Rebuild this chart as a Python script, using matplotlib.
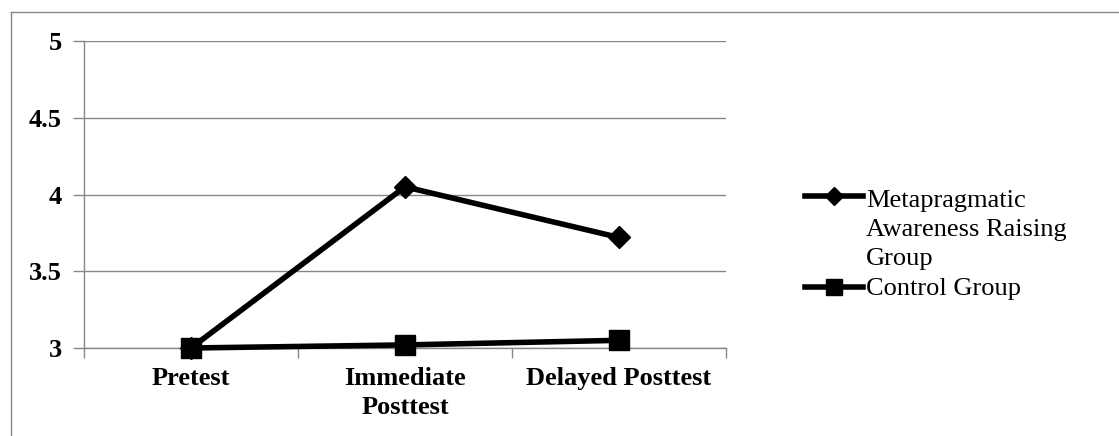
import matplotlib
matplotlib.use("Agg")
import matplotlib.pyplot as plt
from matplotlib.lines import Line2D
import numpy as np

plt.rcParams["font.family"] = ["Liberation Serif", "DejaVu Serif"]

categories = ["Pretest", "Immediate\nPosttest", "Delayed Posttest"]
meta_scores = [3.0, 4.05, 3.72]
control_scores = [3.0, 3.02, 3.05]
series_labels = ["Metapragmatic\nAwareness Raising\nGroup", "Control Group"]
y_ticks = [3, 3.5, 4, 4.5, 5]
y_ticklabels = ["3", "3.5", "4", "4.5", "5"]

W, H = 1119, 436
fig = plt.figure(figsize=(W / 100, H / 100), dpi=100)
ax = fig.add_axes([84 / W, 1 - 348 / H, (726 - 84) / W, (348 - 41) / H])

grid_c = "#868686"
fs = 19
x = np.arange(len(categories))

ax.plot(x, meta_scores, color="black", lw=4, marker="D", ms=11.5,
        clip_on=False, zorder=3)
ax.plot(x, control_scores, color="black", lw=4, marker="s", ms=14.5,
        clip_on=False, zorder=4)

ax.set_xlim(-0.5, len(categories) - 0.5)
ax.set_ylim(3, 5)
ax.set_yticks(y_ticks)
ax.set_yticklabels(y_ticklabels, fontweight="bold", fontsize=fs)
ax.yaxis.grid(True, color=grid_c, lw=1.0)
ax.set_axisbelow(True)

ax.set_xticks(x)
ax.set_xticklabels(categories, fontweight="bold", fontsize=fs,
                   linespacing=1.3)
ax.set_xticks(np.arange(len(categories) + 1) - 0.5, minor=True)
ax.tick_params(axis="x", which="major", length=0, pad=14)
ax.tick_params(axis="x", which="minor", length=7, color=grid_c, width=1.0,
               direction="out")
ax.tick_params(axis="y", length=8, color=grid_c, width=1.0, pad=8)

for s in ["top", "right"]:
    ax.spines[s].set_visible(False)
for s in ["left", "bottom"]:
    ax.spines[s].set_color(grid_c)
    ax.spines[s].set_linewidth(1.0)

# outer chart border (top and left visible in the crop)
fig.add_artist(Line2D([11 / W, 11 / W], [0, 1 - 12 / H], color=grid_c, lw=1.0))
fig.add_artist(Line2D([11 / W, 1], [1 - 12 / H, 1 - 12 / H], color=grid_c, lw=1.0))

# legend, Excel style: handle aligned with first text line
legend_rows = [(series_labels[0], "D", 9.5, 196, 207), (series_labels[1], "s", 12, 287, 295)]
for label, mk, ms, yc, base in legend_rows:
    yf = 1 - yc / H
    fig.add_artist(Line2D([805 / W, 863 / W], [yf, yf], color="black", lw=4))
    fig.add_artist(Line2D([834 / W], [yf], color="black", marker=mk, ms=ms,
                          lw=0))
    for i, line in enumerate(label.split("\n")):
        fig.text(866 / W, 1 - (base + 29 * i) / H, line, fontsize=fs,
                 va="baseline", ha="left")

fig.savefig("out.png", dpi=100)
